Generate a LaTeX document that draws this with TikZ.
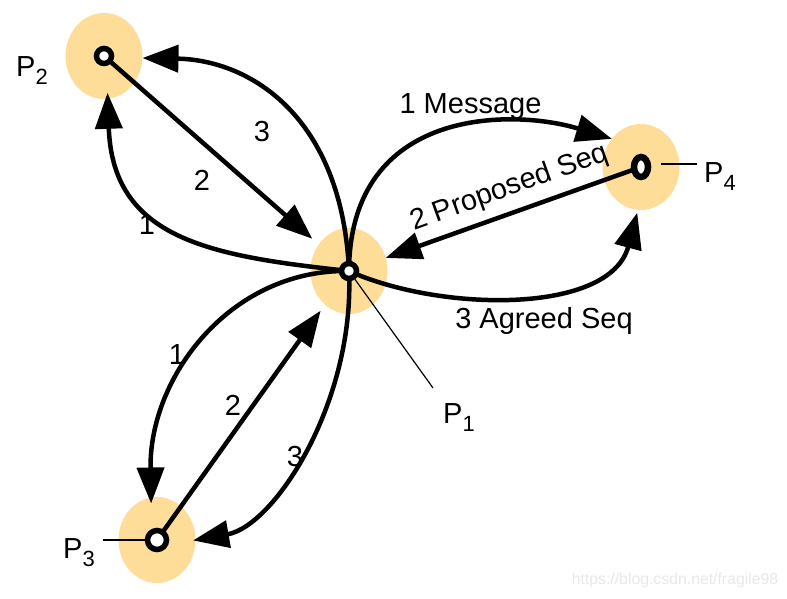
\documentclass[tikz,border=0pt]{standalone}
\usepackage{fontspec}
\setmainfont{Liberation Sans}
\usetikzlibrary{arrows.meta,shapes.geometric}
\definecolor{peach}{RGB}{254,221,153}
\newcommand\Psub[1]{P\raisebox{-8pt}{\fontsize{22}{22}\selectfont #1}}
\begin{document}
\begin{tikzpicture}[x=1pt,y=1pt,
  halo/.style={ellipse, fill=peach, minimum width=77pt, minimum height=86pt, inner sep=0pt, outer sep=0pt},
  ring/.style={circle, draw, line width=5.5pt, fill=white, minimum size=#1, inner sep=0pt},
  ringoval/.style={ellipse, draw, line width=6.5pt, fill=white, minimum width=14pt, minimum height=20pt, inner sep=0pt},
  arr/.style={line width=4.5pt, -{Triangle[length=36pt,width=27pt]}},
  leader/.style={line width=1.2pt},
  lbl/.style={font=\fontsize{29}{34}\selectfont, inner sep=0pt},
  wm/.style={font=\fontsize{15.8}{18}\selectfont, text=black!9, inner sep=0pt}
  ]
\useasboundingbox (0,0) rectangle (787,598);
% halos
\node[halo] (e1) at (349,327) {};
\node[halo] (e2) at (104,542) {};
\node[halo] (e3) at (157,58) {};
\node[halo] (e4) at (641,431) {};
% P1 <-> P2
\draw[arr, shorten >=-6pt] (e1.center) .. controls +(-140,15) and +(5,-140) .. (e2.-85);
\draw[arr, shorten >=8.5pt] (e2.center) -- (e1);
\draw[arr] (e1.center) .. controls +(-7,154) and +(108,-2) .. (e2.-3);
% P1 <-> P4
\draw[arr] (e1.center) .. controls +(1,165) and +(-98,30) .. (e4.136);
\draw[arr] (e4.center) -- (e1);
\draw[arr, shorten >=3pt] (e1.center) .. controls +(91,-41) and +(-28,-105) .. (e4.-94);
% P1 <-> P3
\draw[arr, shorten >=-6pt] (e1.center) .. controls +(-119,2) and +(-2,120) .. (e3.98);
\draw[arr, shorten >=7.5pt] (e3.center) -- (e1);
\draw[arr, shorten >=-2.5pt] (e1.center) .. controls +(6,-131) and +(79,14) .. (e3.0);
% rings
\node[ring=15pt] (p1) at (e1.center) {};
\node[ring=15pt] (p2) at (e2.center) {};
\node[ring=19pt] (p3) at (e3.center) {};
\node[ringoval] (p4) at (e4.center) {};
% leaders
\coordinate (l1) at (433,210);
\coordinate (l4a) at (661,434);
\coordinate (l4b) at (697,434);
\coordinate (l3) at (103,58);
\draw[leader] (p1) -- (l1);
\draw[leader] (l4a) -- (l4b);
\draw[leader] (l3) -- (p3);
% process labels
\node[lbl, anchor=base west] (t1) at (443,175) {\Psub{1}};
\node[lbl, anchor=base west] (t2) at (16,521) {\Psub{2}};
\node[lbl, anchor=base west] (t3) at (63,40) {\Psub{3}};
\node[lbl, anchor=base west] (t4) at (704,415) {\Psub{4}};
% step labels P2
\node[lbl] (a1) at (147,373) {1};
\node[lbl] (a2) at (202,418) {2};
\node[lbl] (a3) at (262,466) {3};
% step labels P3
\node[lbl] (c1) at (177,243) {1};
\node[lbl] (c2) at (233,193) {2};
\node[lbl] (c3) at (295,141) {3};
% step labels P4
\node[lbl, anchor=base] (b1) at (470.5,484.7) {1 Message};
\node[lbl, anchor=base, rotate=19.8] (b2) at (512,403) {2 Proposed Seq};
\node[lbl, anchor=base] (b3) at (544,269.7) {3 Agreed Seq};
% watermark
\node[wm] (w) at (675,18) {https://blog.csdn.net/fragile98};
\end{tikzpicture}
\end{document}
